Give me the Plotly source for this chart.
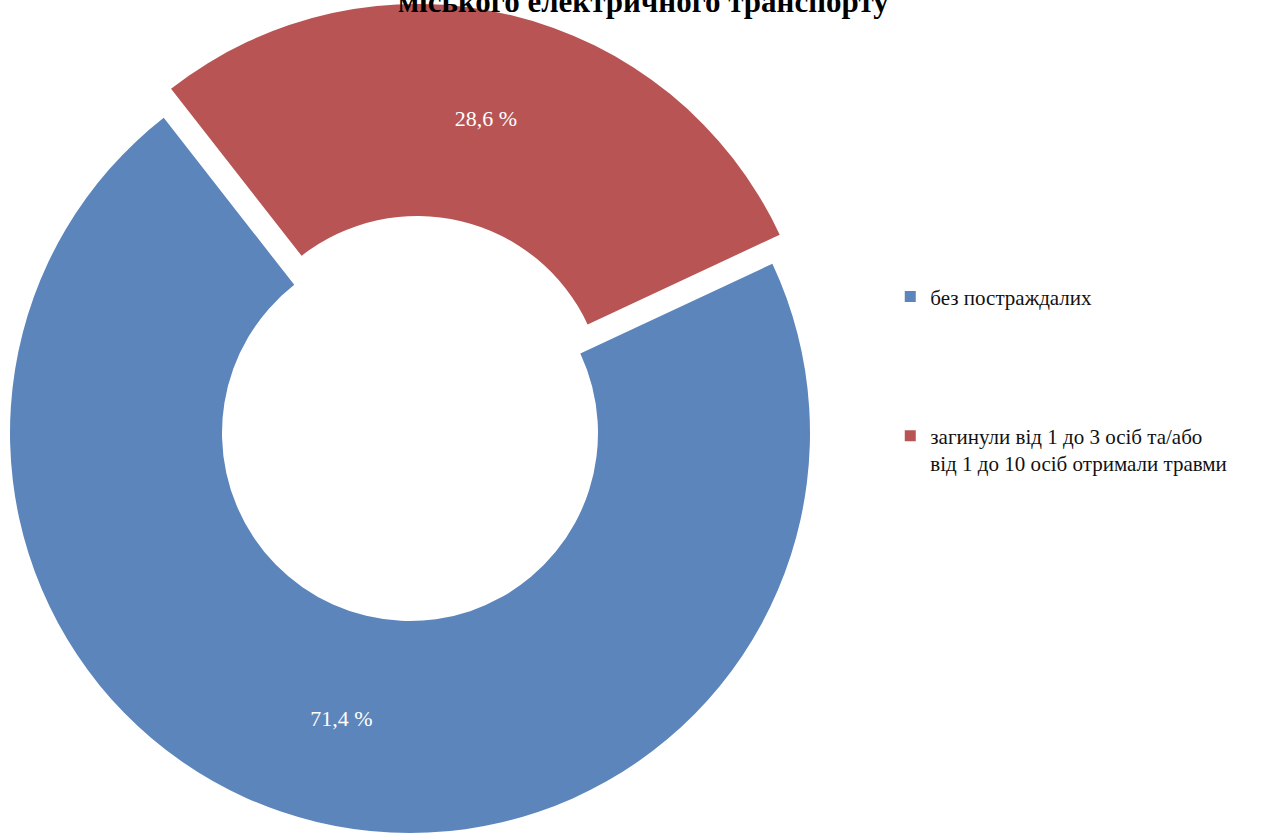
import plotly.graph_objects as go

labels = ["загинули від 1 до 3 осіб та/або<br>від 1 до 10 осіб отримали травми",
          "без постраждалих"]
values = [28.6, 71.4]
colors = ["#b95454", "#5c85bc"]
title_text = "міського електричного транспорту"
legend_order = [1, 0]  # blue first in legend

SERIF = "Liberation Serif, Times New Roman, serif"
W, H = 1261, 836
TRANSPARENT = "rgba(0,0,0,0)"


def px_domain(x0, x1, y0, y1):
    # pixel box (top-left origin) -> paper domain
    return dict(x=[x0 / W, x1 / W], y=[(H - y1) / H, (H - y0) / H])


common = dict(
    labels=labels, values=values, hole=0.47, sort=False,
    direction="clockwise", rotation=322, showlegend=False,
    textposition="inside", insidetextorientation="horizontal",
    textfont=dict(family=SERIF, size=22, color="white"),
    hoverinfo="label+percent",
)

fig = go.Figure()
# blue slice (not pulled)
fig.add_trace(go.Pie(
    **common,
    marker=dict(colors=[TRANSPARENT, colors[1]], line=dict(width=0)),
    texttemplate=["", "%{value:.1f} %"],
    domain=px_domain(10, 810, 33, 833),
))
# red slice (exploded outward along its bisector)
fig.add_trace(go.Pie(
    **common,
    marker=dict(colors=[colors[0], TRANSPARENT], line=dict(width=0)),
    texttemplate=["%{value:.1f} %", ""],
    domain=px_domain(17.3, 817.3, 4, 804),
))

# legend entries
for i in legend_order:
    fig.add_trace(go.Scatter(
        x=[None], y=[None], mode="markers", name=labels[i],
        legendgroup=f"g{i}", showlegend=True,
        marker=dict(symbol="square", size=11, color=colors[i]),
        hoverinfo="skip",
    ))

fig.update_layout(
    width=W, height=H,
    margin=dict(l=0, r=0, t=0, b=0),
    paper_bgcolor="white", plot_bgcolor="white",
    separators=", ",
    xaxis=dict(visible=False), yaxis=dict(visible=False),
    legend=dict(
        x=0.706, y=0.6694, xanchor="left", yanchor="top",
        valign="top", itemwidth=30, tracegroupgap=109,
        bgcolor="rgba(0,0,0,0)",
        font=dict(family=SERIF, size=21, color="#111111"),
    ),
    annotations=[dict(
        text="<b>" + title_text + "</b>",
        x=0.5103, y=1 - 2 / H, xref="paper", yref="paper",
        xanchor="center", yanchor="middle", showarrow=False,
        font=dict(family=SERIF, size=31, color="black"),
    )],
)

fig.write_html("out.html", config={"displayModeBar": False},
               post_script="document.body.style.margin='0px';")
